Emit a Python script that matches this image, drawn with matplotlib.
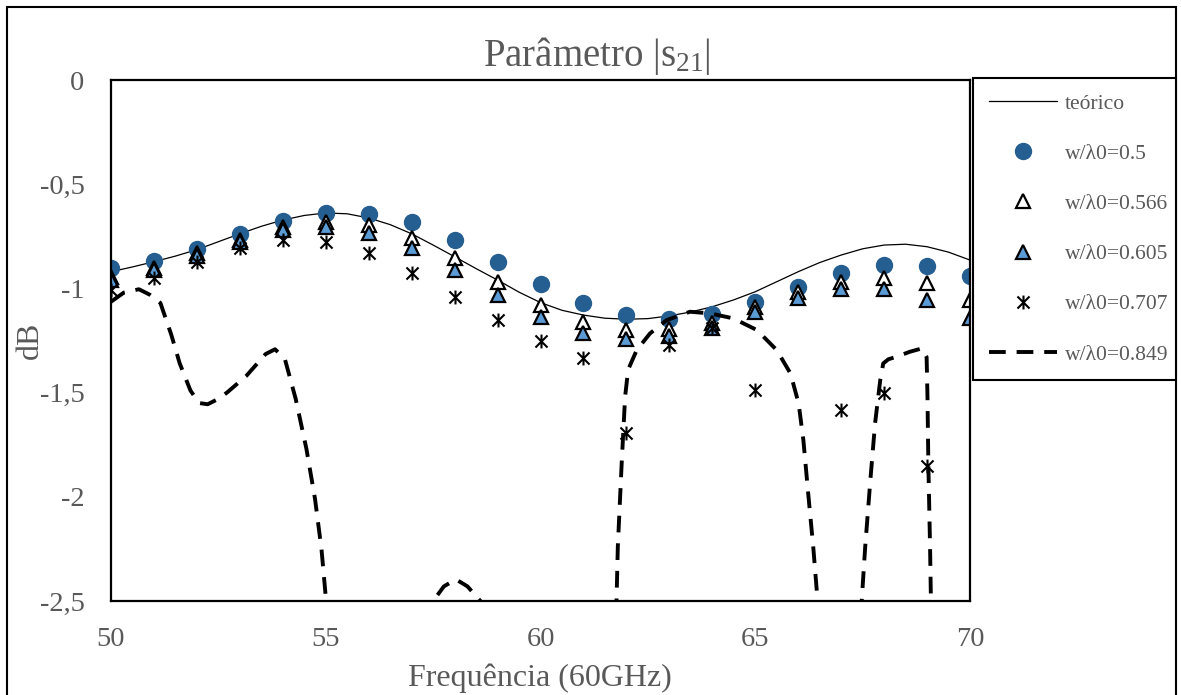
import numpy as np
import matplotlib as mpl
mpl.use('Agg')
import matplotlib.pyplot as plt
from matplotlib.path import Path
from matplotlib.patches import Rectangle
from matplotlib.ticker import FuncFormatter

# frequency points of the measured series
freq = np.arange(50, 71)

s21_w0500 = [-0.90, -0.870, -0.811, -0.740, -0.676, -0.637, -0.641, -0.683, -0.768,
             -0.873, -0.979, -1.068, -1.130, -1.146, -1.123, -1.064, -0.992, -0.926,
             -0.888, -0.891, -0.939]
s21_w0566 = [-0.944, -0.902, -0.830, -0.768, -0.704, -0.680, -0.696, -0.758, -0.854,
             -0.968, -1.080, -1.160, -1.200, -1.196, -1.166, -1.090, -1.016, -0.968,
             -0.950, -0.974, -1.056]
s21_w0605 = [-0.960, -0.912, -0.845, -0.776, -0.720, -0.704, -0.736, -0.808, -0.912,
             -1.032, -1.136, -1.212, -1.244, -1.228, -1.188, -1.112, -1.048, -1.004,
             -1.004, -1.056, -1.140]
s21_w0707 = [-1.008, -0.950, -0.872, -0.808, -0.768, -0.776, -0.832, -0.928, -1.040,
             -1.152, -1.250, -1.336, -1.692, -1.270, -1.192, -1.488, np.nan, -1.584,
             -1.500, -1.852, np.nan]

# theoretical curve
freq_teo = [50, 50.5, 51, 51.5, 52, 52.5, 53, 53.5, 54, 54.5, 55, 55.5, 56, 56.5,
            57, 57.5, 58, 58.5, 59, 59.5, 60, 60.5, 61, 61.5, 62, 62.5, 63, 63.5,
            64, 64.5, 65, 65.5, 66, 66.5, 67, 67.5, 68, 68.5, 69, 69.5, 70]
s21_teo = [-0.920, -0.897, -0.872, -0.845, -0.814, -0.776, -0.738, -0.702, -0.672,
           -0.650, -0.638, -0.642, -0.662, -0.694, -0.738, -0.792, -0.848, -0.905,
           -0.960, -1.018, -1.068, -1.105, -1.128, -1.143, -1.148, -1.145, -1.132,
           -1.113, -1.088, -1.055, -1.016, -0.968, -0.920, -0.876, -0.840, -0.810,
           -0.792, -0.788, -0.800, -0.826, -0.864]

# w/l0 = 0.849 simulated curve (goes below the axis range in places)
freq_0849 = [50.0, 50.3, 50.65, 50.9, 51.15, 51.4, 51.6, 51.85, 52.05, 52.25, 52.5,
             52.7, 53.15, 53.6, 53.82, 54.05, 54.3, 54.55, 54.75, 54.9, 55.0, 55.1,
             56.0, 57.3, 57.5, 57.75, 58.03, 58.3, 58.6, 58.9, 60.5, 61.7, 61.77,
             61.8, 61.89, 61.97, 62.04, 62.24, 62.55, 62.94, 63.48, 63.95, 64.49,
             65.04, 65.5, 65.82, 66.01, 66.12, 66.24, 66.35, 66.45, 66.55, 67.0,
             67.4, 67.48, 67.56, 67.68, 67.79, 67.91, 67.98, 68.1, 68.29, 68.6,
             68.88, 68.99, 69.01, 69.03, 69.07, 69.09, 69.15, 70.0]
s21_0849 = [-1.064, -1.020, -1.004, -1.030, -1.070, -1.220, -1.360, -1.490, -1.550,
            -1.556, -1.530, -1.500, -1.420, -1.315, -1.292, -1.340, -1.530, -1.770,
            -2.010, -2.250, -2.480, -2.700, -3.200, -2.700, -2.500, -2.430, -2.396,
            -2.430, -2.500, -2.700, -3.500, -2.800, -2.500, -2.240, -1.840, -1.520,
            -1.390, -1.296, -1.216, -1.152, -1.112, -1.120, -1.144, -1.200, -1.296,
            -1.408, -1.552, -1.727, -2.000, -2.240, -2.495, -2.750, -3.000, -2.750,
            -2.495, -2.240, -1.920, -1.647, -1.440, -1.360, -1.340, -1.328, -1.304,
            -1.288, -1.330, -1.520, -1.840, -2.240, -2.495, -2.800, -3.200]

labels = ['teórico', 'w/λ0=0.5', 'w/λ0=0.566', 'w/λ0=0.605',
          'w/λ0=0.707', 'w/λ0=0.849']

GRAY = '#595959'
W, H = 1181, 695

plt.rcParams['font.family'] = ['Liberation Serif', 'DejaVu Serif']
plt.rcParams['mathtext.fontset'] = 'custom'
plt.rcParams['mathtext.rm'] = 'Liberation Serif'
plt.rcParams['mathtext.it'] = 'Liberation Serif'

# Excel style "star" marker: an x with a vertical bar
star = Path([(-1, -1), (1, 1), (-1, 1), (1, -1), (0, -1.15), (0, 1.15)],
            [Path.MOVETO, Path.LINETO, Path.MOVETO, Path.LINETO,
             Path.MOVETO, Path.LINETO])

fig = plt.figure(figsize=(W / 100, H / 100), dpi=100)
ax = fig.add_axes([111 / W, 1 - 601 / H, (970 - 111) / W, (601 - 80) / H])

h_teo, = ax.plot(freq_teo, s21_teo, color='black', lw=0.9)
h1, = ax.plot(freq, s21_w0500, ls='none', marker='o', ms=11.5,
              mfc='#255E91', mec='#255E91')
h2, = ax.plot(freq, s21_w0566, ls='none', marker='^', ms=10.5,
              mfc='white', mec='black', mew=1.6)
h3, = ax.plot(freq, s21_w0605, ls='none', marker='^', ms=10.5,
              mfc='#5B9BD5', mec='black', mew=1.6)
h4, = ax.plot(freq, s21_w0707, ls='none', marker=star, ms=10,
              mfc='none', mec='black', mew=1.5)
h5, = ax.plot(freq_0849, s21_0849, color='black', lw=2.8, dashes=(4.3, 2.8))

ax.set_xlim(50, 70)
ax.set_ylim(-2.5, 0)
ax.set_xticks([50, 55, 60, 65, 70])
ax.set_yticks([0, -0.5, -1, -1.5, -2, -2.5])
ax.yaxis.set_major_formatter(FuncFormatter(
    lambda v, p: ('%g' % v).replace('.', ',')))
ax.tick_params(length=0, labelsize=20.5, labelcolor=GRAY)
ax.tick_params(axis='y', pad=19)
ax.tick_params(axis='x', pad=19)
for sp in ax.spines.values():
    sp.set_linewidth(1.6)

fig.text(597 / W, 1 - 56 / H, 'Parâmetro |s$_{21}$|', ha='center', va='center',
         fontsize=28, color=GRAY)
fig.text(540 / W, 1 - 678 / H, 'Frequência (60GHz)', ha='center', va='center',
         fontsize=23, color=GRAY)
fig.text(30 / W, 1 - 340 / H, 'dB', ha='center', va='center', rotation=90,
         fontsize=23, color=GRAY)

leg = fig.legend([h_teo, h1, h2, h3, h4, h5], labels, loc='upper left',
                 bbox_to_anchor=(973 / W, 1 - 380 / H, 203 / W, 302 / H),
                 mode='expand', fontsize=15.5, labelcolor=GRAY,
                 frameon=True, fancybox=False, edgecolor='black', framealpha=1,
                 borderpad=0.72, labelspacing=1.40, handlelength=3.16,
                 handletextpad=0.37, borderaxespad=0)
leg.get_frame().set_linewidth(1.5)

fig.patches.append(Rectangle((7 / W, -0.1), (1176 - 7) / W, 1.1 - 7 / H,
                             transform=fig.transFigure, fill=False,
                             edgecolor='black', lw=1.5))

fig.savefig('out.png', dpi=100)
